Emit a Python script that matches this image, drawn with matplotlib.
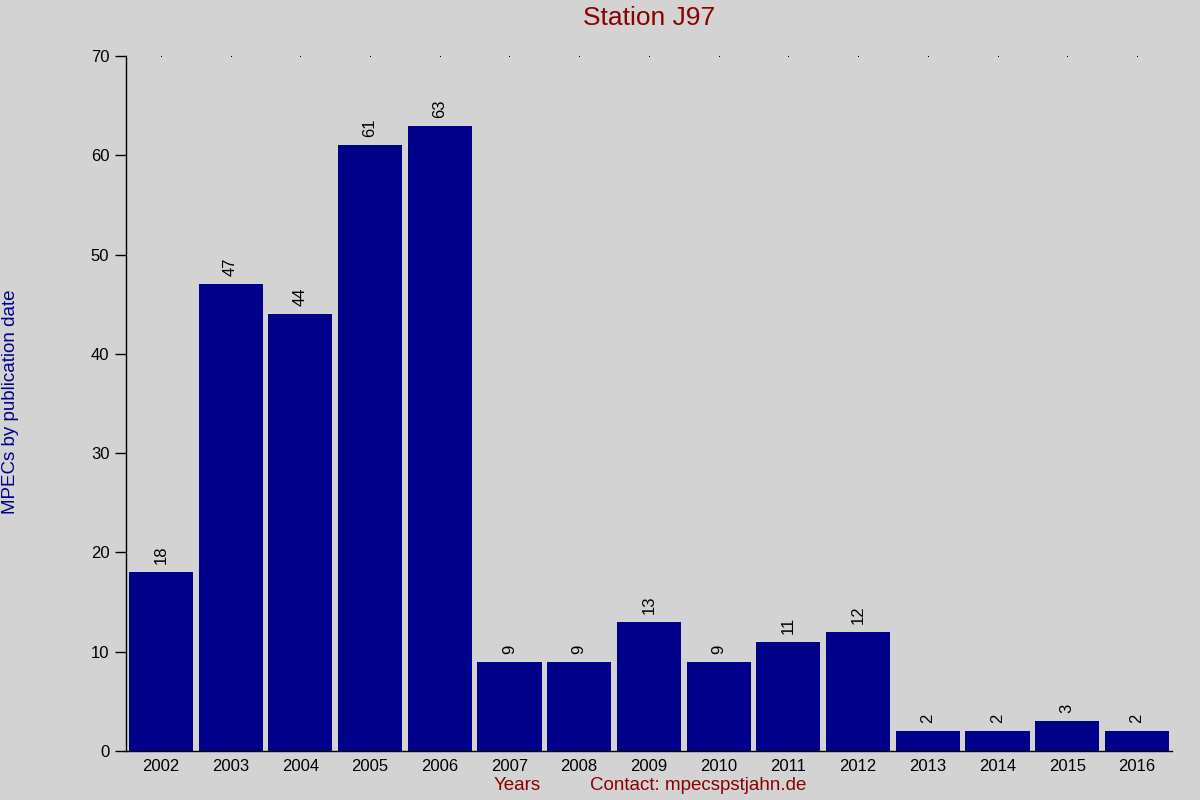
import numpy as np
import matplotlib
matplotlib.use('Agg')
import matplotlib.pyplot as plt

plt.rcParams['font.family'] = ['Liberation Sans', 'DejaVu Sans']

years = ['2002', '2003', '2004', '2005', '2006', '2007', '2008', '2009',
         '2010', '2011', '2012', '2013', '2014', '2015', '2016']
mpecs = [18, 47, 44, 61, 63, 9, 9, 13, 9, 11, 12, 2, 2, 3, 2]

bg = '#d3d3d3'
fig = plt.figure(figsize=(12, 8), dpi=100, facecolor=bg)
ax = fig.add_axes([0.105, 0.06125, 0.8715, 0.86875], facecolor=bg)

x = np.arange(len(years))
ax.bar(x, mpecs, width=0.92, color='#00008b')

for xi, v in zip(x, mpecs):
    ax.text(xi, v + 0.8, str(v), rotation=90, ha='center', va='bottom',
            fontsize=12, color='black')

# little dots along the top
ax.plot(x, [70] * len(x), ls='none', marker='s', ms=0.7, mew=0,
        color='black', clip_on=False)

ax.set_xlim(-0.5, len(years) - 0.5)
ax.set_ylim(0, 70)
ax.set_xticks(x)
ax.set_xticklabels(years)
ax.set_yticks(np.arange(0, 71, 10))
ax.tick_params(axis='x', length=0, pad=6, labelsize=12)
ax.tick_params(axis='y', length=8, width=1, direction='out', pad=4,
               labelsize=12)
for s in ['top', 'right']:
    ax.spines[s].set_visible(False)
ax.spines['left'].set_linewidth(1)
ax.spines['bottom'].set_linewidth(1)

fig.text(0.541, 0.977, 'Station J97', ha='center', va='center',
         fontsize=19, color='#8b0000')
fig.text(0.009, 0.4975, 'MPECs by publication date', rotation=90,
         ha='center', va='center', fontsize=13.5, color='#00008b')
fig.text(0.431, 0.018, 'Years', ha='center', va='center', fontsize=13.5,
         color='#8b0000')
fig.text(0.5815, 0.018, 'Contact: mpecspstjahn.de', ha='center',
         va='center', fontsize=13.5, color='#8b0000')

fig.savefig('out.png', dpi=100, facecolor=bg)
